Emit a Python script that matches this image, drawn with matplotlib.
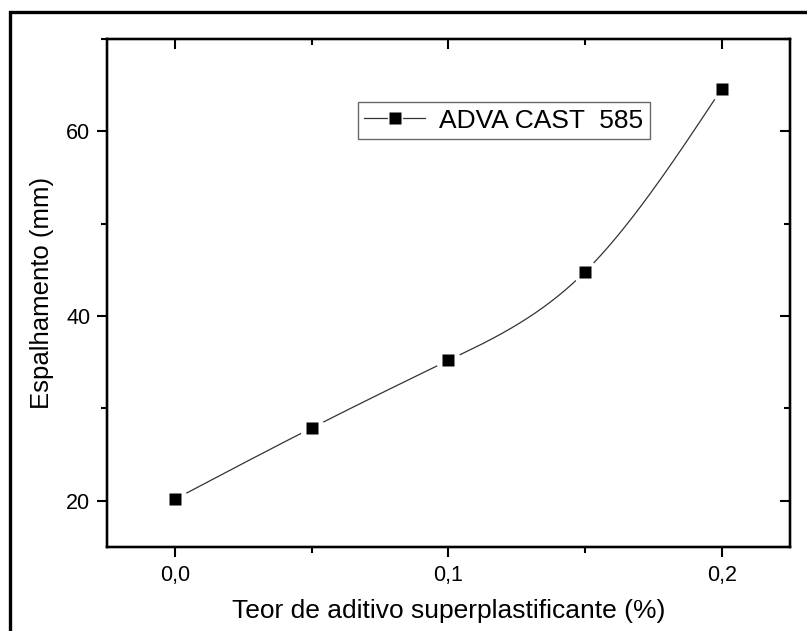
import matplotlib
matplotlib.use("Agg")
import matplotlib.pyplot as plt
from matplotlib.lines import Line2D
from matplotlib.patches import Rectangle
from matplotlib.legend_handler import HandlerTuple
from matplotlib.ticker import MultipleLocator, FuncFormatter
import numpy as np

# data
teor = [0.0, 0.05, 0.10, 0.15, 0.20]
espalhamento = [20.2, 27.9, 35.2, 44.8, 64.6]
serie_label = "ADVA CAST  585"
xlabel = "Teor de aditivo superplastificante (%)"
ylabel = "Espalhamento (mm)"


def natural_spline(x, y, n=300):
    # smooth connecting curve through the points (Origin "spline" line)
    x = np.asarray(x, float)
    y = np.asarray(y, float)
    k = len(x)
    h = np.diff(x)
    A = np.zeros((k, k))
    b = np.zeros(k)
    A[0, 0] = A[-1, -1] = 1
    for i in range(1, k - 1):
        A[i, i - 1] = h[i - 1]
        A[i, i] = 2 * (h[i - 1] + h[i])
        A[i, i + 1] = h[i]
        b[i] = 6 * ((y[i + 1] - y[i]) / h[i] - (y[i] - y[i - 1]) / h[i - 1])
    M = np.linalg.solve(A, b)
    xs = np.linspace(x[0], x[-1], n)
    idx = np.clip(np.searchsorted(x, xs) - 1, 0, k - 2)
    x0, x1 = x[idx], x[idx + 1]
    hh = x1 - x0
    t0, t1 = x1 - xs, xs - x0
    ys = (M[idx] * t0 ** 3 + M[idx + 1] * t1 ** 3) / (6 * hh) \
        + (y[idx] / hh - M[idx] * hh / 6) * t0 \
        + (y[idx + 1] / hh - M[idx + 1] * hh / 6) * t1
    return xs, ys


plt.rcParams['font.family'] = ['Liberation Sans', 'DejaVu Sans']

fig = plt.figure(figsize=(8.07, 6.31), dpi=100)
ax = fig.add_axes([0.1326, 0.1331, 0.8463, 0.8051])

# outer frame of the picture
fig.add_artist(Rectangle((10 / 807, -0.1), 2.0, (631 - 12) / 631 + 0.1,
                         transform=fig.transFigure, fill=False,
                         lw=2.4, ec='black'))

xs, ys = natural_spline(teor, espalhamento)
ax.plot(xs, ys, color='#333333', lw=0.9, zorder=2)
ax.plot(teor, espalhamento, 'o', ms=18, mfc='white', mec='none', zorder=3)
ax.plot(teor, espalhamento, 's', ms=8.6, mfc='black', mec='none', zorder=4)

xlim = (-0.025, 0.225)
ylim = (15, 70)
ax.set_xlim(*xlim)
ax.set_ylim(*ylim)
ax.xaxis.set_major_locator(MultipleLocator(0.1))
ax.xaxis.set_minor_locator(MultipleLocator(0.05))
ax.yaxis.set_major_locator(MultipleLocator(20))
ax.yaxis.set_minor_locator(MultipleLocator(10))
ax.xaxis.set_major_formatter(FuncFormatter(lambda v, p: ('%.1f' % v).replace('.', ',')))
ax.yaxis.set_major_formatter(FuncFormatter(lambda v, p: '%d' % round(v)))

for s in ax.spines.values():
    s.set_linewidth(1.6)

ax.tick_params(which='both', width=1.5, direction='out', top=False, right=False)
ax.tick_params(which='major', length=7)
ax.tick_params(which='minor', length=4)
ax.tick_params(axis='x', which='major', labelsize=15.5, pad=6)
ax.tick_params(axis='y', which='major', labelsize=15.5, pad=5)

# inward ticks on the top and right sides
ax_top = ax.twiny()
ax_top.set_xlim(*xlim)
ax_top.xaxis.set_major_locator(MultipleLocator(0.1))
ax_top.xaxis.set_minor_locator(MultipleLocator(0.05))
ax_top.tick_params(which='both', direction='in', labeltop=False, width=1.5)
ax_top.tick_params(which='major', length=7)
ax_top.tick_params(which='minor', length=4)
ax_right = ax.twinx()
ax_right.set_ylim(*ylim)
ax_right.yaxis.set_major_locator(MultipleLocator(20))
ax_right.yaxis.set_minor_locator(MultipleLocator(10))
ax_right.tick_params(which='both', direction='in', labelright=False, width=1.5)
ax_right.tick_params(which='major', length=7)
ax_right.tick_params(which='minor', length=4)
for a in (ax_top, ax_right):
    for s in a.spines.values():
        s.set_linewidth(1.6)

ax.set_xlabel(xlabel, fontsize=19, labelpad=9)
ax.set_ylabel(ylabel, fontsize=18.5, labelpad=9)

h_line = Line2D([], [], color='#333333', lw=0.9)
h_gap = Line2D([], [], marker='o', ms=11, mfc='white', mec='none', ls='none')
h_sq = Line2D([], [], marker='s', ms=8, mfc='black', mec='none', ls='none')
leg = ax_right.legend([(h_line, h_gap, h_sq)], [serie_label],
                      handler_map={tuple: HandlerTuple(ndivide=1)},
                      loc='upper left', bbox_to_anchor=(0.367, 0.876),
                      borderaxespad=0, fontsize=19, fancybox=False,
                      handlelength=2.3, handletextpad=0.55, borderpad=0.25,
                      numpoints=1)
leg.get_frame().set_edgecolor('#444444')
leg.get_frame().set_linewidth(1.0)

fig.savefig("out.png", dpi=100)
